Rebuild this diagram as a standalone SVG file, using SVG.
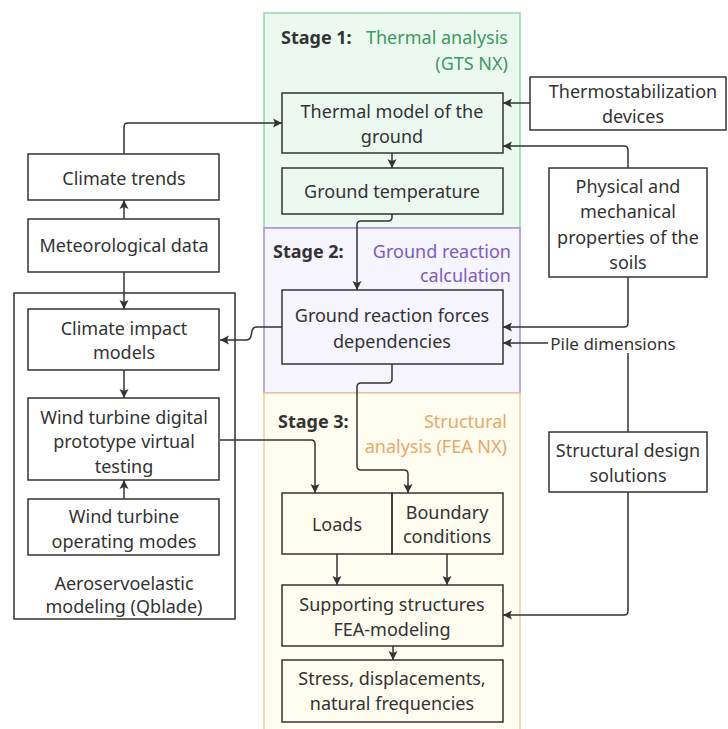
<svg xmlns="http://www.w3.org/2000/svg" width="728" height="729" viewBox="0 0 728 729">
<defs>
<marker id="ah" markerUnits="userSpaceOnUse" markerWidth="10" markerHeight="10" refX="9" refY="5" orient="auto">
<path d="M0,0.5 L9,5 L0,9.5 L2,5 z" fill="#333"/>
</marker>
<style>
text{font-family:"Noto Sans","Open Sans","DejaVu Sans",sans-serif;font-size:18px;fill:#333;text-anchor:middle;dominant-baseline:central}
.box{fill:#fff;stroke:#333;stroke-width:1.5}
.gbox{fill:none;stroke:#333;stroke-width:1.5}
.c{fill:none;stroke:#333;stroke-width:1.5;marker-end:url(#ah)}
.l{fill:none;stroke:#333;stroke-width:1.5}
.st{font-weight:bold;text-anchor:start}
.r{text-anchor:end}
</style>
</defs>
<rect width="728" height="729" fill="#fff"/>
<g id="stage1"><rect x="264" y="13" width="256" height="215" fill="#ebf9f0" stroke="#8fd6a8" stroke-width="1.5"/>
<text class="st" x="281" y="37">Stage 1:</text>
<text class="r" x="508" y="37" style="fill:#3d9a5e">Thermal analysis</text>
<text class="r" x="508" y="63" style="fill:#3d9a5e">(GTS NX)</text></g>
<g id="stage2"><rect x="264" y="228" width="256" height="165" fill="#f6f4ff" stroke="#a68ae0" stroke-width="1.5"/>
<text class="st" x="273" y="251">Stage 2:</text>
<text class="r" x="511" y="251" style="fill:#7e5cc4">Ground reaction</text>
<text class="r" x="511" y="275" style="fill:#7e5cc4">calculation</text></g>
<g id="stage3"><rect x="264" y="393" width="256" height="350" fill="#fffcf0" stroke="#f2cc9c" stroke-width="1.5"/>
<text class="st" x="278" y="421">Stage 3:</text>
<text class="r" x="507" y="421" style="fill:#eaa868">Structural</text>
<text class="r" x="507" y="446" style="fill:#eaa868">analysis (FEA NX)</text></g>
<g id="aero"><rect class="box" x="14" y="293" width="221" height="326"/>
<text x="124" y="583">Aeroservoelastic</text>
<text x="124" y="606">modeling (Qblade)</text></g>
<g id="connectors">
<path class="c" d="M124,154 V127 Q124,123 128,123 H282"/>
<path class="c" d="M124,219 V200"/>
<path class="c" d="M124,272 V309"/>
<path class="c" d="M124,370 V398"/>
<path class="c" d="M124,499 V480"/>
<path class="c" d="M220,440 H311 Q315,440 315,444 V493"/>
<path class="c" d="M530,103 H503"/>
<path class="c" d="M628,168 V150 Q628,146 624,146 H503"/>
<path class="c" d="M392,153 V168"/>
<path class="c" d="M392,214 V217 Q392,221 388,221 H361 Q357,221 357,225 V290"/>
<path class="c" d="M628,277 V323 Q628,327 624,327 H503"/>
<path class="c" d="M548,343 H503"/>
<path class="c" d="M282,327 H257 Q253,327 252,331 L251,336 Q250,340 246,340 H220"/>
<path class="c" d="M392,364 V379 Q392,383 388,383 H361 Q357,383 357,387 V466 Q357,470 361,470 H404 Q408,470 408,474 V493"/>
<path class="l" d="M628,353 V432"/>
<path class="c" d="M628,492 V611 Q628,615 624,615 H503"/>
<path class="c" d="M337,554 V585"/>
<path class="c" d="M447,554 V585"/>
<path class="c" d="M393,646 V660"/>
</g>
<g id="climate-trends"><rect class="box" x="28" y="154" width="191" height="46"/><text x="124" y="178">Climate trends</text></g>
<g id="meteo"><rect class="box" x="28" y="219" width="191" height="53"/><text x="124" y="245">Meteorological data</text></g>
<g id="climate-impact"><rect class="box" x="28" y="309" width="191" height="61"/><text x="124" y="328">Climate impact</text><text x="124" y="352">models</text></g>
<g id="wt-digital"><rect class="box" x="28" y="398" width="191" height="82"/><text x="124" y="417">Wind turbine digital</text><text x="124" y="441">prototype virtual</text><text x="124" y="466">testing</text></g>
<g id="wt-modes"><rect class="box" x="28" y="499" width="191" height="56"/><text x="124" y="516">Wind turbine</text><text x="124" y="541">operating modes</text></g>
<g id="thermal-model"><rect class="gbox" x="282" y="93" width="221" height="60"/><text x="392" y="111">Thermal model of the</text><text x="392" y="136">ground</text></g>
<g id="ground-temp"><rect class="gbox" x="282" y="168" width="221" height="46"/><text x="392" y="191">Ground temperature</text></g>
<g id="thermostab"><rect class="box" x="530" y="77" width="196" height="53"/><text x="633" y="91">Thermostabilization</text><text x="633" y="116">devices</text></g>
<g id="physical"><rect class="box" x="549" y="168" width="158" height="109"/><text x="628" y="186">Physical and</text><text x="628" y="211">mechanical</text><text x="628" y="237">properties of the</text><text x="628" y="262">soils</text></g>
<g id="ground-reaction"><rect class="gbox" x="282" y="290" width="221" height="74"/><text x="392" y="315">Ground reaction forces</text><text x="392" y="341">dependencies</text></g>
<g id="pile"><text x="613" y="343" style="font-size:17px">Pile dimensions</text></g>
<g id="structural-design"><rect class="box" x="549" y="432" width="158" height="60"/><text x="628" y="450">Structural design</text><text x="628" y="475">solutions</text></g>
<g id="loads"><rect class="gbox" x="282" y="493" width="110" height="61"/><text x="337" y="524">Loads</text></g>
<g id="boundary"><rect class="gbox" x="392" y="493" width="111" height="61"/><text x="447" y="512">Boundary</text><text x="447" y="536">conditions</text></g>
<g id="supporting"><rect class="gbox" x="282" y="585" width="221" height="61"/><text x="392" y="604">Supporting structures</text><text x="392" y="629">FEA-modeling</text></g>
<g id="stress"><rect class="gbox" x="282" y="660" width="221" height="62"/><text x="392" y="678">Stress, displacements,</text><text x="392" y="703">natural frequencies</text></g>
</svg>
